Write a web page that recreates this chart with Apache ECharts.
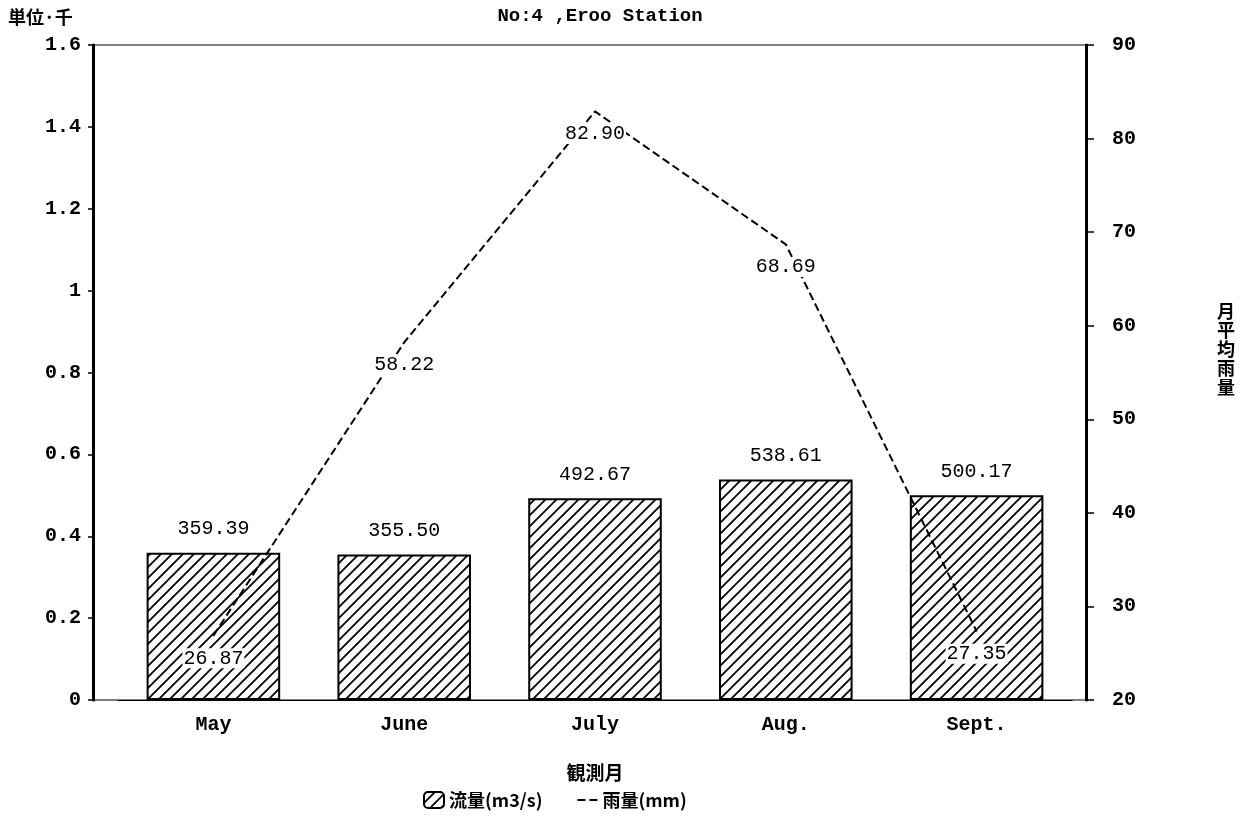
<!DOCTYPE html>
<html><head><meta charset="utf-8">
<script src="https://cdn.jsdelivr.net/npm/echarts@6/dist/echarts.min.js"></script>
<style>html,body{margin:0;padding:0;background:#fff}#c{width:1249px;height:818px}</style>
</head><body><div id="c"></div>
<script>
const months = ['May', 'June', 'July', 'Aug.', 'Sept.'];
const flowThousand = [0.35939, 0.35550, 0.49267, 0.53861, 0.50017];
const flowLabels = ['359.39', '355.50', '492.67', '538.61', '500.17'];
const rain = [26.87, 58.22, 82.90, 68.69, 27.35];
const rainLabels = ['26.87', '58.22', '82.90', '68.69', '27.35'];

function hatch() {
  const s = 11, c = document.createElement('canvas');
  c.width = s; c.height = s;
  const g = c.getContext('2d');
  g.fillStyle = '#fff'; g.fillRect(0, 0, s, s);
  g.strokeStyle = '#000'; g.lineWidth = 1.8;
  g.beginPath();
  g.moveTo(-2, s + 2); g.lineTo(s + 2, -2);
  g.moveTo(-2, 2); g.lineTo(2, -2);
  g.moveTo(s - 2, s + 2); g.lineTo(s + 2, s - 2);
  g.stroke();
  return c;
}
const pat = { image: hatch(), repeat: 'repeat' };
const mono = '"Liberation Mono", "DejaVu Sans Mono", monospace';
const cjk = '"Noto Sans CJK JP", sans-serif';

const chart = echarts.init(document.getElementById('c'), null, { renderer: 'canvas' });
chart.setOption({
  animation: false,
  backgroundColor: '#fff',
  title: {
    text: 'No:4 ,Eroo Station', left: 595, textAlign: 'center', top: 2,
    textStyle: { fontFamily: mono, fontSize: 19, fontWeight: 'bold', color: '#000' }
  },
  grid: [
    { left: 118, right: 177, top: 45, bottom: 118 },
    { left: 93, right: 163, top: 45, bottom: 118, show: true, borderColor: '#000', borderWidth: 1.2, z: 1 }
  ],
  legend: {
    bottom: 4, left: 418, itemGap: 34, itemWidth: 20, itemHeight: 16,
    textStyle: { fontFamily: cjk, fontSize: 18, fontWeight: 'bold', color: '#000' },
    data: [
      { name: '流量(m3/s)' },
      { name: '雨量(mm)', itemStyle: { color: 'rgba(0,0,0,0)', borderWidth: 0 } }
    ]
  },
  xAxis: [{
    type: 'category', data: months, gridIndex: 0,
    name: '観測月', nameLocation: 'middle', nameGap: 63,
    nameTextStyle: { fontFamily: cjk, fontSize: 19, fontWeight: 'bold', color: '#000' },
    axisLine: { lineStyle: { color: '#000', width: 1.2 } },
    axisTick: { alignWithLabel: true, length: 8, lineStyle: { color: '#000', width: 2 } },
    axisLabel: { fontFamily: mono, fontSize: 20, fontWeight: 'bold', color: '#000', margin: 15 }
  }, {
    type: 'value', gridIndex: 1, show: false
  }],
  yAxis: [{
    type: 'value', gridIndex: 0, min: 0, max: 1.6, interval: 0.2, offset: 25,
    axisLine: { show: true, lineStyle: { color: '#000', width: 3 } },
    axisTick: { show: true, length: 5, lineStyle: { color: '#000', width: 1.5 } },
    axisLabel: { fontFamily: mono, fontSize: 20, fontWeight: 'bold', color: '#000', margin: 12 },
    splitLine: { show: false }
  }, {
    type: 'value', gridIndex: 0, min: 20, max: 90, interval: 10, position: 'right', offset: 14,
    axisLine: { show: true, lineStyle: { color: '#000', width: 3 } },
    axisTick: { show: true, length: 8, lineStyle: { color: '#000', width: 1.5 } },
    axisLabel: { fontFamily: mono, fontSize: 20, fontWeight: 'bold', color: '#000', margin: 26 },
    splitLine: { show: false }
  }, {
    type: 'value', gridIndex: 1, show: false
  }],
  graphic: [{
    type: 'text', left: 8, top: 8,
    style: { text: '単位·千', font: 'bold 18px "Noto Sans CJK JP"', fill: '#000' }
  }, {
    type: 'text', left: 1217, top: 302,
    style: { text: '月\n平\n均\n雨\n量', font: 'bold 18px "Noto Sans CJK JP"', fill: '#000', lineHeight: 19 }
  }],
  series: [{
    name: '流量(m3/s)', type: 'bar', data: flowThousand, barWidth: '70%',
    itemStyle: { color: pat, borderColor: '#000', borderWidth: 2 },
    label: {
      show: true, position: 'top', distance: 14,
      formatter: p => flowLabels[p.dataIndex],
      fontFamily: mono, fontSize: 20, color: '#000'
    }
  }, {
    name: '雨量(mm)', type: 'line', yAxisIndex: 1, data: rain,
    symbol: 'circle', symbolSize: 1,
    itemStyle: { color: '#000' },
    lineStyle: { color: '#000', width: 2, type: [8, 4] },
    label: {
      show: true, position: 'bottom', distance: 12,
      formatter: p => rainLabels[p.dataIndex],
      fontFamily: mono, fontSize: 20, color: '#000',
      backgroundColor: '#fff', padding: [0, 1]
    },
    z: 5
  }]
});
</script></body></html>
